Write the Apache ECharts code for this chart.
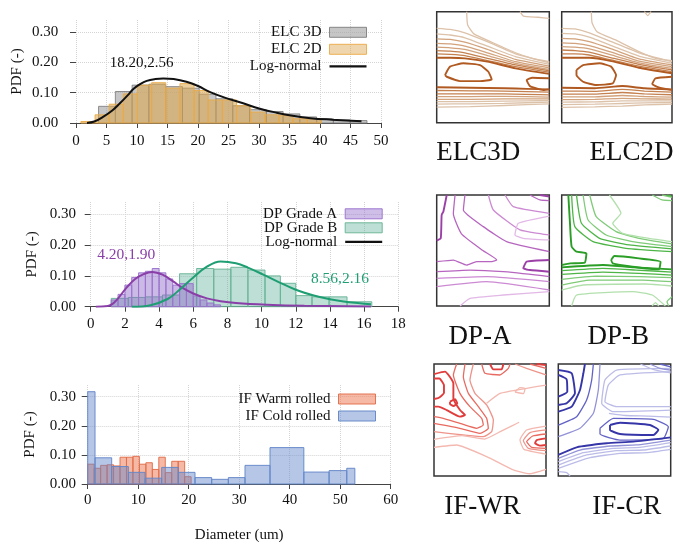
<!DOCTYPE html>
<html><head><meta charset="utf-8">
<script src="https://cdn.jsdelivr.net/npm/echarts/dist/echarts.min.js"></script>
<style>html,body{margin:0;padding:0;background:#fff}#c{width:673px;height:542px}</style>
</head><body><div id="c"></div>
<script>
// ---------- Panel 1: ELC ----------
const elc3dEdges = [3.7,6.45,9.2,11.95,14.7,17.45,20.2,22.95,25.7,28.45,31.2,33.95,36.7,39.45,42.2,44.95,47.7];
const elc3dHeights = [0.055,0.104,0.125,0.128,0.120,0.115,0.095,0.080,0.057,0.044,0.038,0.030,0.020,0.014,0.010,0.008];
const elc2dEdges = [0.8,3.12,5.44,7.76,10.08,12.4,14.72,17.04,19.36,21.68,24.0,26.32,28.64,30.96,33.28,35.6,37.92,40.24];
const elc2dHeights = [0.005,0.027,0.062,0.096,0.125,0.133,0.115,0.130,0.107,0.076,0.076,0.057,0.036,0.027,0.024,0.014,0.014];
const elcFit = [[1.8,0],[3,0.005],[4.5,0.021],[6,0.042],[7.2,0.065],[8.5,0.092],[9.4,0.112],[10.5,0.128],[11.6,0.139],[13,0.145],[14.3,0.147],[16,0.145],[18.1,0.136],[20,0.122],[22,0.102],[24.5,0.083],[27.4,0.065],[30,0.048],[32.9,0.034],[35.5,0.024],[38.4,0.016],[42,0.011],[46.8,0.006]];
// ---------- Panel 2: DP ----------
const dpAEdges = [1.2,1.6,2.0,2.4,2.8,3.2,3.6,4.0,4.4,4.8,5.2,5.6,6.0,6.4,6.8,7.2,7.6];
const dpAHeights = [0.022,0.040,0.070,0.095,0.110,0.115,0.124,0.110,0.090,0.070,0.075,0.075,0.035,0.022,0.012,0.006];
const dpBEdges = [1.2,2.2,3.2,4.2,5.2,6.2,7.2,8.2,9.2,10.2,11.1,12.0,12.95,13.95,15.0,16.45];
const dpBHeights = [0.027,0.030,0.032,0.038,0.107,0.124,0.122,0.128,0.119,0.100,0.076,0.036,0.032,0.032,0.016];
const dpAFit = [[0.3,0],[1.0,0.002],[1.3,0.01],[1.6,0.027],[2.1,0.062],[2.6,0.09],[3.1,0.106],[3.6,0.113],[4.2,0.104],[4.8,0.083],[5.4,0.06],[6.0,0.043],[6.8,0.027],[7.6,0.018],[8.5,0.012],[10.3,0.0065],[12.5,0.003],[16.4,0.001]];
const dpBFit = [[2.4,0],[3.5,0.005],[4.5,0.025],[5.2,0.055],[6.0,0.095],[6.8,0.13],[7.6,0.147],[8.5,0.141],[9.2,0.127],[10.1,0.104],[11.0,0.08],[12.0,0.055],[13.0,0.037],[14.0,0.024],[15.0,0.015],[16.4,0.008]];
// ---------- Panel 3: IF ----------
const warmEdges = [0,1.28,2.56,3.84,5.12,6.4,7.68,8.96,10.24,11.52,12.8,14.08,15.36,16.64,17.92,19.2,20.48];
const warmHeights = [0.068,0.054,0.064,0.066,0.062,0.092,0.092,0.095,0.068,0.073,0.050,0.092,0.039,0.078,0.078,0.025];
const coldEdges = [0,1.45,4.75,8.05,11.35,14.65,17.95,21.25,24.55,27.85,31.15,36.1,42.8,47.8,51.3,52.9];
const coldHeights = [0.317,0.090,0.060,0.040,0.020,0.057,0.040,0.022,0.016,0.022,0.064,0.125,0.041,0.046,0.054];
const yTicks = [0,0.1,0.2,0.3];

// ---------- Contour maps (normalised 0-100 coords, [level, points]) ----------
const elc3dLines = [
 [1,[[26.6,100],[27.5,88],[33,80],[50,72],[70,63],[85,58],[100,55]]],
 [1,[[74,100],[77,96],[90,95],[100,94]]],
 [1,[[0,85],[12,84],[25,81],[45,73],[70,62],[100,54]]],
 [1,[[0,80],[12,79],[25,76.5],[45,69],[70,59.5],[100,52.5]]],
 [2,[[0,75.5],[12,75],[25,72.5],[45,66],[70,57],[100,51]]],
 [2,[[0,71.5],[12,71],[25,69],[45,63],[70,55],[100,49.5]]],
 [2,[[0,68],[12,67.5],[25,66],[45,60.5],[70,53.5],[100,48]]],
 [3,[[0,65],[12,64.5],[25,63],[45,58],[70,52],[100,46.8]]],
 [3,[[0,62],[12,61.5],[25,60.5],[45,56],[70,50.5],[100,45.5]]],
 [4,[[0,58.5],[12,58.5],[25,58],[45,55],[70,49],[100,44]]],
 [4,[[7.4,42.9],[11.8,50.5],[23.7,53.5],[38.5,51.9],[45.9,45.9],[48.8,39],[38.5,37.5],[20.7,37.5],[8.9,41.4],[7.4,42.9]]],
 [4,[[100,40],[85,40.5],[79.9,38.4],[82.8,33],[94.7,29.4],[100,30]]],
 [4,[[0,32],[30,31.5],[60,31],[80,30.5],[100,30]]],
 [3,[[0,29],[30,28.7],[60,28.5],[100,27.5]]],
 [3,[[0,26],[30,26],[60,26],[100,25]]],
 [2,[[0,23.5],[30,23.5],[60,23.8],[100,23]]],
 [2,[[0,21],[30,21],[60,21.5],[100,21.5]]],
 [1,[[0,19],[30,19],[60,19.5],[100,20]]],
 [1,[[0,16.8],[30,17],[60,17.5],[100,18.5]]],
 [1,[[0,14],[30,14.5],[60,15.5],[100,17]]]
];
const elc2dLines = [
 [1,[[26.9,100],[27.5,90],[32,82],[50,74],[70,64],[85,58],[100,56]]],
 [1,[[75,100],[78,96.5],[81,100]]],
 [1,[[0,85],[12,84.5],[25,81],[45,73],[70,63],[100,55]]],
 [1,[[0,80.5],[12,80],[25,77],[45,69.5],[70,60],[100,53.5]]],
 [2,[[0,76],[12,75.5],[25,73],[45,66.5],[70,57.5],[100,52]]],
 [2,[[0,72],[12,71.5],[25,69.5],[45,63.5],[70,55.5],[100,50.5]]],
 [2,[[0,68.5],[12,68],[25,66.5],[45,61],[70,54],[100,49]]],
 [3,[[0,65.5],[12,65],[25,63.5],[45,58.5],[70,52.5],[100,47.5]]],
 [3,[[0,62],[12,62],[25,61],[45,56.5],[70,51],[100,46]]],
 [4,[[0,58.5],[12,58.5],[25,58.5],[45,55.5],[70,49.5],[100,44.5]]],
 [4,[[13.4,47.4],[19.4,51.9],[34.3,53.5],[44.8,50.5],[49.3,42.9],[46.3,35.4],[31.3,33.9],[19.4,36.9],[13.4,42.9],[13.4,47.4]]],
 [4,[[100,41.4],[85,39.9],[82.1,34.8],[88,31.8],[100,29.4]]],
 [4,[[0,31.5],[30,31],[55,33],[75,31],[100,30]]],
 [3,[[0,28.5],[30,28.3],[55,30],[75,28.5],[100,27.5]]],
 [3,[[0,25.8],[30,25.8],[55,27.2],[75,26],[100,25.2]]],
 [2,[[0,23.2],[30,23.3],[55,24.5],[75,23.6],[100,23]]],
 [2,[[0,20.8],[30,21],[55,22],[75,21.5],[100,21.2]]],
 [1,[[0,18.5],[30,18.8],[55,19.6],[75,19.6],[100,19.6]]],
 [1,[[0,16.3],[30,16.7],[55,17.3],[75,17.8],[100,18.2]]],
 [1,[[0,13.8],[30,14.3],[55,15],[75,16],[100,16.8]]]
];
const dpALines = [
 [4,[[8.9,100],[5.9,85],[4.4,82],[3.6,61],[0,59]]],
 [3,[[16.3,100],[14.8,83],[22,65],[41,50],[53.3,41.4],[49,40],[35.5,40],[26.6,36.9],[14.8,41.4],[0,40]]],
 [3,[[25.1,100],[23.7,86.5],[41.4,71.5],[62.1,58],[100,49]]],
 [2,[[45.9,100],[50.3,86.5],[74,68.5],[100,64]]],
 [2,[[60.7,100],[68,89.5],[100,83.5]]],
 [3,[[82.8,100],[91.7,95.5],[100,94.9]]],
 [4,[[91.7,100],[100,98.5]]],
 [1,[[100,81],[72.5,74.5],[69.5,64],[77,61],[100,59.5]]],
 [4,[[100,41.4],[79.9,40],[76.9,34],[82.8,32.4],[100,30.9]]],
 [3,[[0,30.9],[29.6,32.4],[59.2,30.9],[100,26.4]]],
 [2,[[0,24.9],[44.4,26.4],[100,21.9]]],
 [2,[[0,17.4],[44.4,21.9],[100,14.4]]],
 [1,[[20.7,0],[29.6,6.9],[59.2,9.9],[100,12.9]]]
];
const dpBLines = [
 [4,[[6,100],[7.5,74.5],[9,53.5],[13.4,49],[22.4,47.4],[20.9,39],[7.5,38.4],[0,36.9]]],
 [3,[[9,100],[11.9,71.5],[28.4,58],[58.2,52],[100,49]]],
 [3,[[13.4,100],[17.9,74.5],[34.3,61],[61.2,55],[100,51.4]]],
 [2,[[19.4,100],[23.9,77.5],[40.3,64],[64.2,58],[100,53.5]]],
 [2,[[25.4,100],[31.3,80.5],[49.3,67],[70.1,61],[100,55.9]]],
 [1,[[43.3,100],[53.7,83.5],[46.3,74.5],[55.2,65.5],[79.1,61],[100,58]]],
 [2,[[82.1,100],[91,95.5],[100,94.9]]],
 [2,[[91,100],[100,97.9]]],
 [3,[[95.5,100],[100,98.8]]],
 [4,[[44.8,41.4],[47.8,45],[70.1,42.9],[89.6,39.9],[88.1,33],[64.2,35.4],[46.3,38.4],[44.8,41.4]]],
 [4,[[0,34.8],[37.3,36.9],[67.2,34.8],[100,33]]],
 [3,[[0,31.8],[37.3,33.9],[67.2,32.4],[100,30.6]]],
 [3,[[0,28.5],[37.3,30.6],[70.1,29.4],[100,27.9]]],
 [2,[[0,24],[31.3,27],[70.1,26.4],[100,25.5]]],
 [2,[[0,18.9],[25.4,23.4],[73.1,23.4],[100,21.9]]],
 [1,[[0,14.4],[19.4,18.9],[76.1,19.8],[100,18]]],
 [1,[[9,0],[13.4,9.9],[64.2,12.9],[82.1,9.9],[94,0]]],
 [2,[[100,8.4],[95.5,3.9],[97,0]]],
 [1,[[82,0],[85,3],[88,0]]]
];
const ifwrLines = [
 [4,[[0,87],[4.8,87],[8.9,81],[8.9,74],[3.9,69.6],[0,68.8]]],
 [4,[[14.3,66.4],[18.8,68.5],[20.8,64.9],[17.3,62.5],[14.3,64.3],[14.3,66.4]]],
 [4,[[0,91],[9.8,93.2],[17.3,82.7],[17.3,69.3],[23.2,58.9],[27.7,54.4],[23.2,53],[11.3,58.9],[3.9,61.9],[0,61.9]]],
 [3,[[20.2,100],[17.3,90.2],[23.2,73.8],[32.1,61.9],[42.6,51.5],[44,45.5],[38.1,42.6],[23.2,47],[8.3,51.5],[0,53]]],
 [3,[[27.7,100],[26.2,88.7],[30.7,73.8],[39.6,61.9],[47,51.5],[48.5,42.6],[41.1,38.1],[23.2,42.6],[0,47]]],
 [2,[[35.1,100],[32.1,85.7],[36.6,73.8],[47,63.4],[53,50],[51.5,39.6],[44,35.1],[0,39.6]]],
 [3,[[42.6,100],[45.5,91.7],[58.9,90.2],[66.4,96.1],[67.9,100]]],
 [4,[[50,100],[53,95.2],[60.4,95.2],[61.9,100]]],
 [2,[[72.3,100],[82.7,96.1],[100,90.2]]],
 [3,[[85.7,100],[100,96.1]]],
 [4,[[91.7,100],[100,99]]],
 [1,[[47,64.9],[58.9,73.8],[82.7,78.3],[100,81.2]]],
 [1,[[72.3,75],[76.8,78.9],[81.3,78],[79.8,73.5],[72.3,75]]],
 [1,[[0,32.7],[25,36],[45,33],[60,40],[70,45],[76,48]]],
 [1,[[0,25.6],[20.2,27.7],[47,17.3],[70.8,5.4],[85,2],[100,6]]],
 [1,[[100,44.6],[82.7,41.1],[76.8,32.1],[80.4,23.8],[100,19.6]]],
 [2,[[100,41.1],[85.7,38.7],[79.8,31.5],[84.2,24.7],[100,22.6]]],
 [3,[[100,37.5],[88.1,35.7],[82.7,30.7],[87.2,25.6],[100,24.7]]],
 [4,[[100,33.6],[91.7,32.1],[90.2,29.2],[94.6,27.1],[100,27.7]]]
];
const ifcrLines = [
 [4,[[0,90.2],[7.4,86.3],[8,75.3],[0,70.8]]],
 [4,[[0,94.6],[11.9,91.7],[14.8,73.8],[7.4,64.9],[0,63.4]]],
 [4,[[0,57.4],[11.9,61.9],[19.3,76.8],[22.3,91.7],[23.7,100]]],
 [3,[[0,45.5],[16.3,53],[25.2,67.9],[29.7,85.7],[31.2,100]]],
 [2,[[0,35.1],[19.3,42.6],[31.2,56],[35.6,76.8],[37.1,100]]],
 [4,[[46,45.5],[54.9,47.6],[81.6,45.5],[89,41.1],[84.6,36.6],[54.9,37.5],[46,41.1],[46,45.5]]],
 [3,[[37.1,42.6],[49,51.5],[84.6,50.6],[97.9,44],[93.5,33.6],[54.9,32.1],[37.1,37.5],[37.1,42.6]]],
 [4,[[0,18.8],[16.3,25.6],[43,29.2],[66.8,30.7],[100,34.5]]],
 [2,[[0,15.8],[19.3,23.2],[46,26.8],[69.7,27.7],[100,32.1]]],
 [1,[[0,12.8],[22.3,20.8],[49,24.7],[72.7,25.6],[100,29.8]]],
 [1,[[0,9.8],[25.2,18.8],[51.9,22.6],[75.7,23.2],[100,26.8]]],
 [1,[[0,6.8],[28.2,16.4],[54.9,20.2],[78.6,20.8],[100,23.8]]],
 [1,[[100,93.2],[54.9,90.2],[44.5,81.2],[41.5,66.4],[51.9,61.9],[100,61.9]]],
 [1,[[100,96.1],[51.9,94.6],[41.5,85.7],[38.6,64.9],[49,57.4],[100,58.9]]],
 [1,[[45,56],[60,54],[80,53.5],[100,52.5]]],
 [2,[[81.6,100],[90.5,96.1],[100,94.6]]],
 [3,[[90.5,100],[100,97.5]]],
 [1,[[73,100],[85,95],[100,92]]],
 [1,[[0,3.9],[7.4,3],[10.4,0]]]
];
const mapNames = ['ELC3D','ELC2D','DP-A','DP-B','IF-WR','IF-CR'];

const F = 'Liberation Serif';
const palettes = {
  elc: ['#ddc2aa','#d2a27c','#c4804f','#b05a22'],
  dpa: ['#e2b8e6','#cc8ad3','#b766c0','#9c40a8'],
  dpb: ['#b2e0ac','#7fcb78','#4db546','#2a9e26'],
  wr:  ['#f3b9b0','#ee948a','#e86a60','#e03c3c'],
  cr:  ['#bcbce8','#9292d8','#6262c6','#3535a8']
};

const chart = echarts.init(document.getElementById('c'), null, {renderer:'canvas'});

function hist(name, edges, heights, gi, fill, stroke, blend) {
  const data = heights.map((h, i) => [edges[i], edges[i+1], h]);
  return {
    type:'custom', name, xAxisIndex:gi, yAxisIndex:gi, data, silent:true,
    itemStyle:{color:fill, borderColor:stroke, borderWidth:1},
    encode:{x:[0,1], y:2},
    renderItem:(params, api) => {
      const p0 = api.coord([api.value(0), api.value(2)]);
      const p1 = api.coord([api.value(1), 0]);
      const st = {fill, stroke, lineWidth:1};
      if (blend) st.blend = blend;
      return {type:'rect', shape:{x:p0[0], y:p0[1], width:p1[0]-p0[0], height:p1[1]-p0[1]}, style:st};
    }
  };
}
function curve(name, pts, gi, color) {
  return {type:'line', name, xAxisIndex:gi, yAxisIndex:gi, data:pts, smooth:0.4, symbol:'none', showSymbol:false,
    lineStyle:{color, width:2}, itemStyle:{color}, silent:true, z:5};
}

const grids = [
  {left:76, top:20, width:305, height:103},
  {left:90.7, top:202, width:307.6, height:104.7},
  {left:87.7, top:385, width:303, height:99},
  {left:436.7, top:11.7, width:112.6, height:111},
  {left:561.7, top:11.7, width:110.3, height:111},
  {left:436.7, top:195, width:112.6, height:111},
  {left:561.7, top:195, width:110.3, height:111},
  {left:434, top:364, width:112, height:112},
  {left:558.3, top:364, width:112.4, height:112}
];
const grid = grids.map((g, i) => i < 3 ? Object.assign({containLabel:false, outerBoundsMode:'none'}, g)
  : Object.assign({show:true, borderColor:'#333', borderWidth:1.5, backgroundColor:'#fff', outerBoundsMode:'none'}, g));

const txt = {fontFamily:F, fontSize:15, color:'#111'};
function xAx(gi, max, interval, margin, extra) {
  return Object.assign({gridIndex:gi, type:'value', min:0, max, interval,
    axisLine:{show:true, onZero:false, lineStyle:{color:'#444', width:1}},
    axisTick:{show:true, length:5, lineStyle:{color:'#444'}},
    axisLabel:Object.assign({margin}, txt),
    splitLine:{show:true, lineStyle:{color:'#d4d4d4', type:'dotted'}}}, extra || {});
}
function yAx(gi, offset, margin, nameGap) {
  return {gridIndex:gi, type:'value', min:0, max:0.34, offset,
    axisLine:{show:false},
    axisTick:{show:true, length:6, customValues:yTicks, lineStyle:{color:'#444'}},
    axisLabel:Object.assign({margin, customValues:yTicks, formatter:v => v.toFixed(2)}, txt),
    splitLine:{show:true, lineStyle:{color:'#d4d4d4', type:'dotted'}},
    name:'PDF (-)', nameLocation:'middle', nameGap, nameTextStyle:txt};
}
const xAxis = [
  xAx(0, 50, 5, 11), xAx(1, 18, 2, 10),
  xAx(2, 60, 10, 9, {name:'Diameter (um)', nameLocation:'middle', nameGap:44, nameTextStyle:txt})
];
const yAxis = [yAx(0, 3.3, 14.4, 48.5), yAx(1, 2.4, 12.3, 48.3), yAx(2, 1.7, 10, 48)];
for (let i = 3; i < 9; i++) {
  xAxis.push({gridIndex:i, type:'value', min:0, max:100, show:false});
  yAxis.push({gridIndex:i, type:'value', min:0, max:100, show:false});
}

const series = [
  hist('ELC 3D', elc3dEdges, elc3dHeights, 0, 'rgba(160,160,160,0.6)', 'rgba(125,125,125,0.85)'),
  hist('ELC 2D', elc2dEdges, elc2dHeights, 0, 'rgba(220,165,75,0.55)', 'rgba(235,170,70,0.9)'),
  curve('Log-normal', elcFit, 0, '#111'),
  hist('DP Grade B', dpBEdges, dpBHeights, 1, 'rgba(90,175,150,0.4)', 'rgba(105,180,150,0.95)'),
  hist('DP Grade A', dpAEdges, dpAHeights, 1, 'rgba(140,100,200,0.45)', 'rgba(155,115,205,0.95)', 'multiply'),
  curve('fitA', dpAFit, 1, '#8a3fa8'),
  curve('fitB', dpBFit, 1, '#1f9e73'),
  hist('IF Warm rolled', warmEdges, warmHeights, 2, 'rgba(238,115,75,0.5)', 'rgba(225,110,75,0.95)'),
  hist('IF Cold rolled', coldEdges, coldHeights, 2, 'rgba(100,135,205,0.48)', 'rgba(100,135,200,0.95)', 'multiply')
];
const maps = [
  [3, elc3dLines, palettes.elc], [4, elc2dLines, palettes.elc],
  [5, dpALines, palettes.dpa], [6, dpBLines, palettes.dpb],
  [7, ifwrLines, palettes.wr], [8, ifcrLines, palettes.cr]
];
maps.forEach(([gi, lines, pal]) => lines.forEach(([lvl, pts]) => {
  series.push({type:'line', xAxisIndex:gi, yAxisIndex:gi, data:pts, symbol:'none', showSymbol:false,
    smooth:0.15, silent:true, z:3, lineStyle:{color:pal[lvl-1], width: lvl === 4 ? 1.9 : 1.3}});
}));

const lineIcon = 'path://M0,0H37V2.2H0Z';
function leg(names, styles, right, top, gap) {
  return {orient:'vertical', align:'right', right, top, padding:0, itemGap:gap, itemWidth:37, itemHeight:10,
    selectedMode:false, textStyle:Object.assign({lineHeight:15, padding:[0,3,0,0]}, txt),
    data:names.map((n, i) => styles[i] ? {name:n, icon:'rect', itemStyle:styles[i]}
      : {name:n, icon:lineIcon, itemStyle:{color:'#111', borderWidth:0}})};
}
const legend = [
  leg(['ELC 3D','ELC 2D','Log-normal'], [
    {color:'rgba(160,160,160,0.6)', borderColor:'rgba(125,125,125,0.9)', borderWidth:1},
    {color:'rgba(220,165,75,0.45)', borderColor:'rgba(235,170,70,0.9)', borderWidth:1}, null], 306, 24.8, 2),
  leg(['DP Grade A','DP Grade B','Log-normal'], [
    {color:'rgba(140,100,200,0.42)', borderColor:'rgba(155,115,205,0.95)', borderWidth:1},
    {color:'rgba(90,175,150,0.4)', borderColor:'rgba(105,180,150,0.95)', borderWidth:1}, null], 290.3, 206.3, -1),
  leg(['IF Warm rolled','IF Cold rolled'], [
    {color:'rgba(238,115,75,0.5)', borderColor:'rgba(225,110,75,0.95)', borderWidth:1},
    {color:'rgba(100,135,205,0.48)', borderColor:'rgba(100,135,200,0.95)', borderWidth:1}], 297, 391.5, 2)
];

function label(text, x, y, size, color) {
  return {type:'text', x, y, silent:true, z:10, style:{text, fill:color, font:size + 'px "' + F + '"', align:'center', verticalAlign:'middle'}};
}
const labelPos = [[478.3,153],[631.5,153],[480,336.7],[618.3,336.7],[482.5,506.7],[626.7,506.7]];
const graphic = [
  label('18.20,2.56', 141.7, 63.3, 15, '#111'),
  label('4.20,1.90', 126.2, 255, 15.5, '#8a3fa8'),
  label('8.56,2.16', 340, 279.3, 15.5, '#1f9e73')
].concat(mapNames.map((n, i) => label(n, labelPos[i][0], labelPos[i][1], 27, '#111')));

chart.setOption({animation:false, backgroundColor:'#fff', grid, xAxis, yAxis, series, legend, graphic});
</script></body></html>
